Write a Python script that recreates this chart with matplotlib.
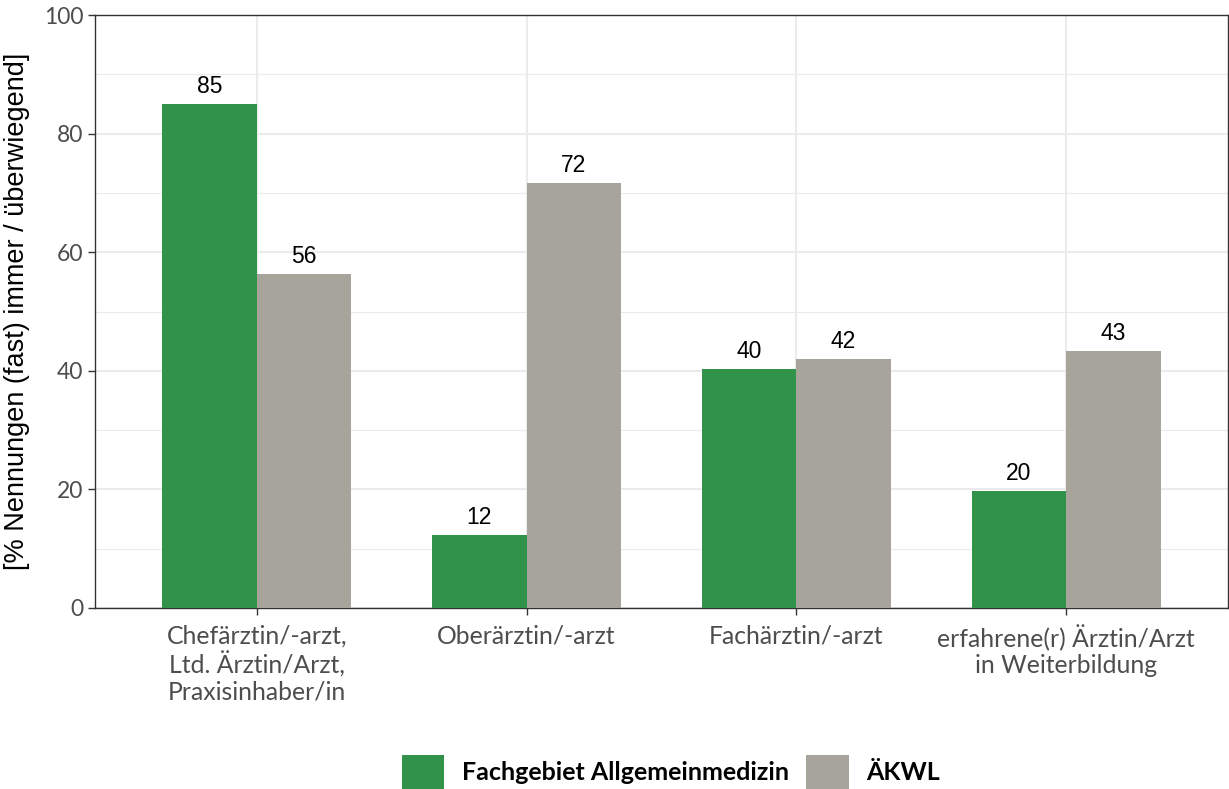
import matplotlib
matplotlib.use("Agg")
import matplotlib.pyplot as plt
import numpy as np
from matplotlib.patches import Patch

categories = ["Chefärztin/-arzt,\nLtd. Ärztin/Arzt,\nPraxisinhaber/in",
              "Oberärztin/-arzt",
              "Fachärztin/-arzt",
              "erfahrene(r) Ärztin/Arzt\nin Weiterbildung"]
series_names = ["Fachgebiet Allgemeinmedizin", "ÄKWL"]
allgemein = [85.0, 12.3, 40.3, 19.7]
aekwl = [56.3, 71.7, 42.0, 43.3]
yticks = [0, 20, 40, 60, 80, 100]

green = "#31924A"
grey = "#A7A49C"
tickfont = "Lato"
numfont = "Liberation Sans"

fig = plt.figure(figsize=(12.29, 7.89), dpi=100)
ax = fig.add_axes([95/1229, 1-608/789, (1228-95)/1229, (608-15)/789])

x = np.arange(1, len(categories) + 1)
w = 0.35
b1 = ax.bar(x - w/2, allgemein, width=w, color=green, zorder=3)
b2 = ax.bar(x + w/2, aekwl, width=w, color=grey, zorder=3)
for bars, vals in ((b1, allgemein), (b2, aekwl)):
    for r, v in zip(bars, vals):
        ax.text(r.get_x() + r.get_width()/2, v + 1.0, f"{round(v):d}",
                ha="center", va="bottom", fontsize=16.5, family=numfont, color="black")

ax.set_xlim(0.4, 4.6)
ax.set_ylim(0, 100)
ax.set_yticks(yticks)
ax.set_yticks([10, 30, 50, 70, 90], minor=True)
ax.set_xticks(x)
ax.set_xticklabels(categories, fontsize=17.8, family=tickfont, color="#4D4D4D", linespacing=1.15)
ax.set_yticklabels([str(t) for t in yticks], fontsize=16.5, family=tickfont, color="#4D4D4D")
ax.tick_params(axis="y", which="minor", length=0)
ax.tick_params(axis="both", which="major", length=5, color="#333333", width=1)
ax.tick_params(axis="x", pad=7)
ax.grid(True, which="major", color="#EBEBEB", linewidth=1.5, zorder=0)
ax.grid(True, which="minor", axis="y", color="#EBEBEB", linewidth=0.8, zorder=0)
for s in ax.spines.values():
    s.set_color("#333333")
    s.set_linewidth(1)
ax.set_axisbelow(True)
ax.set_ylabel("[% Nennungen (fast) immer / überwiegend]", fontsize=19.5, family=numfont,
              color="black", labelpad=10)

handles = [Patch(facecolor=green, edgecolor="none"), Patch(facecolor=grey, edgecolor="none")]
fig.legend(handles, series_names, loc="center", bbox_to_anchor=(0.546, 1-772/789),
           ncol=2, frameon=False, handlelength=1.7, handleheight=1.7, handletextpad=0.7,
           columnspacing=0.7, borderpad=0, borderaxespad=0,
           prop={"family": tickfont, "weight": "bold", "size": 18})

fig.savefig("out.png", dpi=100)
